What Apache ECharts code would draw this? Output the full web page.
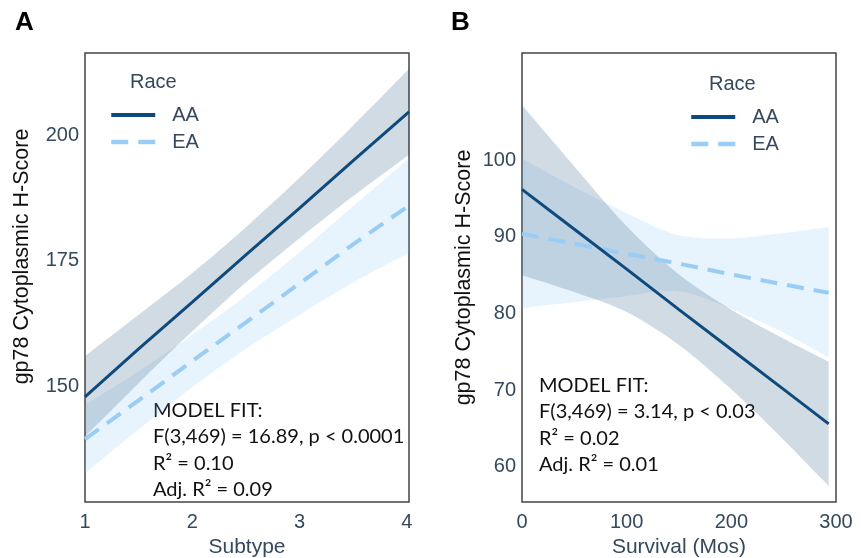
<!DOCTYPE html>
<html>
<head>
<meta charset="utf-8">
<script src="https://cdn.jsdelivr.net/npm/echarts@6/dist/echarts.min.js"></script>
<style>html,body{margin:0;padding:0;background:#fff}#c{width:861px;height:558px}</style>
</head>
<body>
<div id="c"></div>
<script>
// ---------- Panel A: H-Score vs Subtype ----------
const aXs    = [1, 1.5, 2, 2.5, 3, 3.5, 4.02];
const aAAfit = [148.0, 157.5, 166.8, 176.2, 185.5, 194.9, 204.6];
const aAAup  = [156.1, 164.3, 172.6, 181.7, 191.5, 201.9, 213.1];
const aAAlo  = [140.1, 150.7, 161.0, 170.7, 179.5, 187.9, 196.1];
const aEAfit = [139.6, 147.3, 155.1, 162.8, 170.5, 178.3, 186.0];
const aEAup  = [146.4, 153.1, 160.3, 168.1, 176.7, 185.9, 195.4];
const aEAlo  = [132.8, 141.5, 149.9, 157.5, 164.3, 170.7, 176.6];
const aXTicks = [1, 2, 3, 4];
const aYTicks = [150, 175, 200];

// ---------- Panel B: H-Score vs Survival ----------
const bXs    = [0, 50, 100, 150, 200, 250, 293];
const bAAfit = [96.2, 91.0, 85.8, 80.5, 75.3, 70.1, 65.6];
const bAAup  = [107.2, 99.2, 91.4, 85.1, 80.5, 76.7, 73.7];
const bAAlo  = [85.0, 82.8, 80.2, 75.9, 70.1, 63.5, 57.5];
const bEAfit = [90.4, 89.1, 87.8, 86.5, 85.1, 83.8, 82.7];
const bEAup  = [100.2, 96.5, 93.1, 90.2, 89.8, 90.5, 91.3];
const bEAlo  = [80.7, 81.5, 82.3, 82.9, 80.6, 77.5, 74.3];
const bXTicks = [0, 100, 200, 300];
const bYTicks = [60, 70, 80, 90, 100];

const groups = ['AA', 'EA'];
const fitTextA = ['MODEL FIT:', 'F(3,469) = 16.89, p < 0.0001', 'R\u00b2 = 0.10', 'Adj. R\u00b2 = 0.09'];
const fitTextB = ['MODEL FIT:', 'F(3,469) = 3.14, p < 0.03', 'R\u00b2 = 0.02', 'Adj. R\u00b2 = 0.01'];

const SLATE = '#34495e';
const AA_COLOR = '#0f4a7c';
const EA_COLOR = '#99cdf5';
const AA_BAND = 'rgba(24,74,120,0.2)';
const EA_BAND = 'rgba(130,195,245,0.18)';
const FONT = 'Liberation Sans, Arial, sans-serif';
const EA_DASH = [17, 10];

function zip(xs, ys) { return xs.map((x, i) => [x, ys[i]]); }

// confidence band drawn as one smoothed polygon through the library's coordinate system
function band(name, xs, lo, up, color, idx) {
  return {
    name: name, type: 'custom', xAxisIndex: idx, yAxisIndex: idx, clip: true, silent: true,
    data: xs.map((x, i) => [x, lo[i], up[i]]),
    encode: { x: 0, y: [1, 2] },
    renderItem: function (params, api) {
      if (params.dataIndex !== 0) return null;
      const n = xs.length;
      const pts = [];
      for (let i = 0; i < n; i++) pts.push(api.coord([xs[i], up[i]]));
      pts.push(api.coord([xs[n - 1], up[n - 1]]));          // repeat corner to keep it sharp
      pts.push(api.coord([xs[n - 1], lo[n - 1]]));
      for (let i = n - 1; i >= 0; i--) pts.push(api.coord([xs[i], lo[i]]));
      pts.push(api.coord([xs[0], lo[0]]));
      pts.push(api.coord([xs[0], up[0]]));
      return { type: 'polygon', shape: { points: pts, smooth: 0.3 }, style: { fill: color } };
    }
  };
}
function fitLine(name, xs, ys, idx, dashed) {
  return {
    name: name, type: 'line', xAxisIndex: idx, yAxisIndex: idx, symbol: 'none', silent: true,
    data: zip(xs, ys),
    lineStyle: dashed ? { color: EA_COLOR, width: 4, type: EA_DASH } : { color: AA_COLOR, width: 3 },
    itemStyle: { color: dashed ? EA_COLOR : AA_COLOR }
  };
}
function xAx(idx, min, max, ticks, name) {
  return {
    type: 'value', gridIndex: idx, min: min, max: max, name: name,
    nameLocation: 'middle', nameGap: 35,
    nameTextStyle: { fontSize: 21, color: SLATE, fontFamily: FONT },
    axisLine: { show: false }, axisTick: { show: false }, splitLine: { show: false },
    axisLabel: { customValues: ticks, fontSize: 20, color: SLATE, fontFamily: FONT, margin: 10 }
  };
}
function yAx(idx, min, max, ticks, gap, pad) {
  return {
    type: 'value', gridIndex: idx, min: min, max: max, name: 'gp78 Cytoplasmic H-Score',
    nameLocation: 'middle', nameGap: gap, nameRotate: 90,
    nameTextStyle: { fontSize: 21.5, color: '#111', fontFamily: FONT, padding: pad },
    axisLine: { show: false }, axisTick: { show: false }, splitLine: { show: false },
    axisLabel: { customValues: ticks, fontSize: 20, color: SLATE, fontFamily: FONT, margin: 6 }
  };
}
function fitGraphic(lines, x, y) {
  return {
    type: 'text', left: x, top: y, silent: true,
    style: { text: lines.join('\n'), font: '20px Lato, sans-serif', fill: '#111', lineHeight: 26.5 }
  };
}
function legend(left, top) {
  return {
    left: left, top: top, orient: 'vertical', padding: 0, itemWidth: 44, itemHeight: 14, itemGap: 7,
    selectedMode: false,
    itemStyle: { opacity: 0 },
    data: [
      { name: groups[0], lineStyle: { color: AA_COLOR, width: 4 } },
      { name: groups[1], lineStyle: { color: EA_COLOR, width: 4.5, type: EA_DASH } }
    ],
    textStyle: { fontSize: 20, color: SLATE, fontFamily: FONT, padding: [0, 0, 0, 12] }
  };
}
function grid(left, width) {
  return { left: left, top: 53, width: width, height: 449, show: true, borderColor: '#444', borderWidth: 1.5,
           backgroundColor: 'transparent', containLabel: false, outerBoundsMode: 'none' };
}

const chart = echarts.init(document.getElementById('c'), null, { renderer: 'canvas' });
chart.setOption({
  animation: false,
  backgroundColor: '#fff',
  title: [
    { text: 'A', left: 15, top: 10, padding: 0, textStyle: { fontSize: 26, fontWeight: 'bold', color: '#000', fontFamily: FONT } },
    { text: 'B', left: 451, top: 10, padding: 0, textStyle: { fontSize: 26, fontWeight: 'bold', color: '#000', fontFamily: FONT } },
    { text: 'Race', left: 130, top: 72, padding: 0, textStyle: { fontSize: 20, fontWeight: 'normal', color: SLATE, fontFamily: FONT } },
    { text: 'Race', left: 709, top: 74, padding: 0, textStyle: { fontSize: 20, fontWeight: 'normal', color: SLATE, fontFamily: FONT } }
  ],
  legend: [legend(109, 105), legend(689, 107)],
  grid: [grid(85, 324), grid(522, 314)],
  xAxis: [
    xAx(0, 1, 4.02, aXTicks, 'Subtype'),
    xAx(1, 0, 300, bXTicks, 'Survival (Mos)')
  ],
  yAxis: [
    yAx(0, 127.1, 216.3, aYTicks, 52, [0, 0, 0, 42]),
    yAx(1, 55.4, 114.0, bYTicks, 47, [0, 0, 0, 0])
  ],
  graphic: [
    fitGraphic(fitTextA, 153, 397),
    fitGraphic(fitTextB, 539, 372)
  ],
  series: [
    band('EA band A', aXs, aEAlo, aEAup, EA_BAND, 0),
    fitLine('EA', aXs, aEAfit, 0, true),
    band('AA band A', aXs, aAAlo, aAAup, AA_BAND, 0),
    fitLine('AA', aXs, aAAfit, 0, false),
    band('EA band B', bXs, bEAlo, bEAup, EA_BAND, 1),
    fitLine('EA', bXs, bEAfit, 1, true),
    band('AA band B', bXs, bAAlo, bAAup, AA_BAND, 1),
    fitLine('AA', bXs, bAAfit, 1, false)
  ]
});
</script>
</body>
</html>
